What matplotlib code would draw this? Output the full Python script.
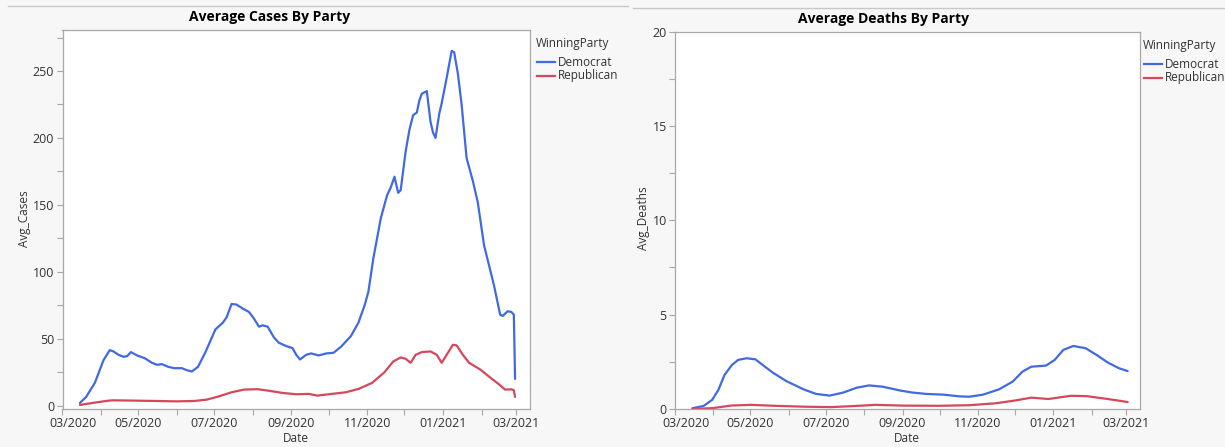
import matplotlib
matplotlib.use("Agg")
import matplotlib.pyplot as plt
import matplotlib.dates as mdates
import matplotlib.transforms as mtrans
from matplotlib.lines import Line2D
from matplotlib.ticker import MultipleLocator
import pandas as pd

# ---------------- data ----------------
cases_dem_dates = ["2020-03-15", "2020-03-20", "2020-03-27", "2020-04-03", "2020-04-08", "2020-04-11",
                   "2020-04-15", "2020-04-19", "2020-04-22", "2020-04-25", "2020-04-30", "2020-05-06",
                   "2020-05-12", "2020-05-16", "2020-05-20", "2020-05-25", "2020-05-30", "2020-06-05",
                   "2020-06-09", "2020-06-13", "2020-06-18", "2020-06-24", "2020-07-02", "2020-07-08",
                   "2020-07-11", "2020-07-15", "2020-07-19", "2020-07-24", "2020-07-29", "2020-08-02",
                   "2020-08-06", "2020-08-09", "2020-08-13", "2020-08-18", "2020-08-22", "2020-08-28",
                   "2020-09-02", "2020-09-05", "2020-09-08", "2020-09-13", "2020-09-17", "2020-09-23",
                   "2020-09-29", "2020-10-05", "2020-10-11", "2020-10-19", "2020-10-25", "2020-10-30",
                   "2020-11-02", "2020-11-06", "2020-11-12", "2020-11-17", "2020-11-20", "2020-11-23",
                   "2020-11-26", "2020-11-28", "2020-12-02", "2020-12-05", "2020-12-08", "2020-12-11",
                   "2020-12-13", "2020-12-15", "2020-12-19", "2020-12-22", "2020-12-24", "2020-12-26",
                   "2020-12-29", "2020-12-31", "2021-01-04", "2021-01-08", "2021-01-10", "2021-01-13",
                   "2021-01-16", "2021-01-20", "2021-01-25", "2021-01-29", "2021-02-03", "2021-02-07",
                   "2021-02-11", "2021-02-16", "2021-02-18", "2021-02-22", "2021-02-25", "2021-02-27",
                   "2021-02-28"]
cases_dem = [2, 6.5, 17, 34, 41.5, 40.5,
             38, 36.5, 37, 40, 37.5, 35.5,
             32, 30.5, 31, 29, 28, 28,
             26.5, 25.5, 29, 40, 57, 62,
             66, 76, 75.5, 72.5, 70, 65,
             59, 60, 59, 51, 47, 44.5,
             43, 38, 34.5, 38, 39, 37.5,
             39, 39.5, 44, 52, 62, 75,
             85, 110, 140, 157, 163, 171,
             159, 161, 190, 206, 217, 219,
             228, 233, 235, 212, 204, 200,
             218, 226, 245, 265, 264, 248,
             225, 185, 168, 152, 120, 105,
             90, 68, 67, 70.5, 70, 68,
             20]

cases_rep_dates = ["2020-03-15", "2020-03-25", "2020-04-05", "2020-04-10", "2020-04-25", "2020-05-15",
                   "2020-06-01", "2020-06-15", "2020-06-25", "2020-07-05", "2020-07-15", "2020-07-25",
                   "2020-08-05", "2020-08-15", "2020-08-25", "2020-09-05", "2020-09-15", "2020-09-22",
                   "2020-10-01", "2020-10-15", "2020-10-25", "2020-11-05", "2020-11-15", "2020-11-22",
                   "2020-11-28", "2020-12-02", "2020-12-06", "2020-12-10", "2020-12-15", "2020-12-22",
                   "2020-12-27", "2020-12-31", "2021-01-04", "2021-01-09", "2021-01-12", "2021-01-17",
                   "2021-01-22", "2021-01-31", "2021-02-08", "2021-02-15", "2021-02-20", "2021-02-25",
                   "2021-02-27", "2021-02-28"]
cases_rep = [0.5, 2, 3.5, 4, 3.8, 3.5,
             3.2, 3.5, 4.5, 7, 10, 12,
             12.3, 11, 9.5, 8.5, 8.8, 7.5,
             8.5, 10, 12.5, 17, 25, 33,
             36, 35, 32, 38, 40, 40.5,
             38, 32, 38, 45.5, 45, 38,
             32, 27, 21, 16, 12, 12.2,
             11.5, 6.5]

deaths_dem_dates = ["2020-03-15", "2020-03-24", "2020-03-31", "2020-04-05", "2020-04-10", "2020-04-16",
                    "2020-04-21", "2020-04-28", "2020-05-05", "2020-05-11", "2020-05-19", "2020-05-30",
                    "2020-06-13", "2020-06-23", "2020-07-04", "2020-07-15", "2020-07-26", "2020-08-05",
                    "2020-08-16", "2020-08-30", "2020-09-09", "2020-09-20", "2020-10-04", "2020-10-17",
                    "2020-10-25", "2020-11-05", "2020-11-18", "2020-11-29", "2020-12-07", "2020-12-14",
                    "2020-12-26", "2021-01-02", "2021-01-09", "2021-01-17", "2021-01-27", "2021-02-05",
                    "2021-02-14", "2021-02-23", "2021-03-02"]
deaths_dem = [0.04, 0.16, 0.48, 1.0, 1.8, 2.33,
              2.6, 2.69, 2.63, 2.33, 1.93, 1.48,
              1.04, 0.8, 0.71, 0.87, 1.13, 1.25,
              1.18, 0.98, 0.87, 0.8, 0.76, 0.67,
              0.65, 0.76, 1.04, 1.45, 1.98, 2.24,
              2.3, 2.6, 3.13, 3.34, 3.22, 2.86,
              2.46, 2.16, 2.01]

deaths_rep_dates = ["2020-03-15", "2020-04-01", "2020-04-15", "2020-05-01", "2020-05-20", "2020-06-15",
                    "2020-07-05", "2020-07-25", "2020-08-10", "2020-09-01", "2020-10-01", "2020-10-25",
                    "2020-11-15", "2020-12-01", "2020-12-14", "2020-12-28", "2021-01-15", "2021-01-28",
                    "2021-02-15", "2021-03-02"]
deaths_rep = [0.0, 0.05, 0.18, 0.22, 0.17, 0.12,
              0.1, 0.16, 0.22, 0.18, 0.17, 0.2,
              0.3, 0.45, 0.6, 0.53, 0.7, 0.68,
              0.52, 0.37]

parties = ["Democrat", "Republican"]
titles = ["Average Cases By Party", "Average Deaths By Party"]
ylabels = ["Avg_Cases", "Avg_Deaths"]
xlabel = "Date"
legend_title = "WinningParty"

# ---------------- style ----------------
BLUE = "#4169E1"
RED = "#D6475B"
BG = "#F7F7F7"
SPINE = "#A8A8A8"
TXT = "#333333"

plt.rcParams["font.family"] = ["Open Sans", "DejaVu Sans"]

W, H = 1225, 447
fig = plt.figure(figsize=(W / 100, H / 100), dpi=100, facecolor=BG)


def fx(px):
    return px / W


def fy(py):
    return 1 - py / H


# top separator lines
fig.add_artist(Line2D([fx(8), fx(628)], [fy(6), fy(6)], color="#C8C8C8", lw=1))
fig.add_artist(Line2D([fx(633), fx(1225)], [fy(8), fy(8)], color="#C8C8C8", lw=1))

panels = [
    dict(rect=[62.5, 29.5, 530, 409], ylim=(-2.5, 281), major=50, minor=25,
         title_x=270, title_y=17, ylab_x=25, ylab_y=219, date_x=296,
         leg_x=536, leg_y=43,
         series=[(cases_dem_dates, cases_dem), (cases_rep_dates, cases_rep)]),
    dict(rect=[675, 31.5, 1140, 409], ylim=(0, 20), major=5, minor=2.5,
         title_x=884, title_y=19, ylab_x=643, ylab_y=218, date_x=907,
         leg_x=1143, leg_y=45,
         series=[(deaths_dem_dates, deaths_dem), (deaths_rep_dates, deaths_rep)]),
]

for i, p in enumerate(panels):
    l, t, r, b = p["rect"]
    ax = fig.add_axes([fx(l), fy(b), fx(r - l), (b - t) / H])
    ax.set_facecolor("white")
    for (d, v), c in zip(p["series"], [BLUE, RED]):
        ax.plot(pd.to_datetime(d), v, color=c, lw=1.6, solid_joinstyle="round",
                solid_capstyle="round")
    ax.set_xlim(pd.Timestamp("2020-03-01"), pd.Timestamp("2021-03-12"))
    ax.set_ylim(*p["ylim"])
    ax.yaxis.set_major_locator(MultipleLocator(p["major"]))
    ax.yaxis.set_minor_locator(MultipleLocator(p["minor"]))
    ax.xaxis.set_major_locator(mdates.MonthLocator(bymonth=[1, 3, 5, 7, 9, 11]))
    ax.xaxis.set_minor_locator(mdates.MonthLocator())
    ax.xaxis.set_major_formatter(mdates.DateFormatter("%m/%Y"))
    for s in ax.spines.values():
        s.set_color(SPINE)
        s.set_linewidth(0.9)
    ax.tick_params(which="both", direction="out", length=4, width=0.8, color=SPINE,
                   labelsize=9, labelcolor=TXT, pad=2)
    fig.canvas.draw()
    first = ax.get_xticklabels()[0]
    first.set_transform(first.get_transform() +
                        mtrans.ScaledTranslation(11 / 100, 0, fig.dpi_scale_trans))

    fig.text(fx(p["title_x"]), fy(p["title_y"]), titles[i], ha="center", va="center",
             fontsize=10, fontweight="bold", color="black")
    fig.text(fx(p["ylab_x"]), fy(p["ylab_y"]), ylabels[i], ha="center", va="center",
             rotation=90, fontsize=8.5, color=TXT)
    fig.text(fx(p["date_x"]), fy(438), xlabel, ha="center", va="center",
             fontsize=8.5, color=TXT)
    # legend
    lx, ly = p["leg_x"], p["leg_y"]
    fig.text(fx(lx), fy(ly), legend_title, ha="left", va="center", fontsize=8.5, color=TXT)
    for k, (name, c) in enumerate(zip(parties, [BLUE, RED])):
        yy = ly + 19 + k * 14
        fig.add_artist(Line2D([fx(lx + 1), fx(lx + 19)], [fy(yy), fy(yy)], color=c, lw=1.6))
        fig.text(fx(lx + 22), fy(yy), name, ha="left", va="center", fontsize=8.5, color=TXT)

fig.savefig("out.png", dpi=100, facecolor=BG)
